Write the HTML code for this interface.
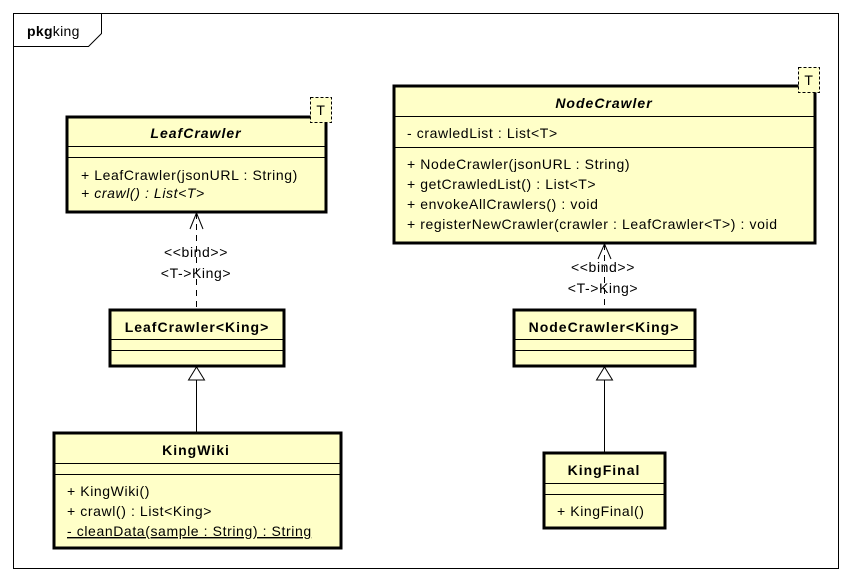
<!DOCTYPE html>
<html><head><meta charset="utf-8"><style>
html,body{margin:0;padding:0;background:#fff;width:852px;height:581px;overflow:hidden}
svg text{font-family:"Liberation Sans",Arial,sans-serif;font-size:14px;fill:#000;letter-spacing:0.6px}
.b{font-weight:bold;letter-spacing:1px}
.bi{font-weight:bold;font-style:italic;letter-spacing:1px}
.box{fill:#ffffc8;stroke:#000;stroke-width:3}
.ln{stroke:#000;stroke-width:1}
</style></head><body>
<svg width="852" height="581" viewBox="0 0 852 581" xmlns="http://www.w3.org/2000/svg">
<rect x="13.5" y="13.5" width="825" height="555" fill="#fff" stroke="#000"/>
<path d="M13.5 46.5 H88.5 L101.5 33.5 V13.5" fill="none" stroke="#000"/>
<text x="27" y="36" style="letter-spacing:0.3px"><tspan font-weight="bold">pkg</tspan>king</text>

<!-- LeafCrawler -->
<rect class="box" x="67" y="117" width="259" height="95"/>
<line class="ln" x1="67" y1="146.5" x2="326" y2="146.5"/>
<line class="ln" x1="67" y1="157.5" x2="326" y2="157.5"/>
<text class="bi" x="196" y="138" text-anchor="middle">LeafCrawler</text>
<text x="81" y="180">+ LeafCrawler(jsonURL : String)</text>
<text x="81" y="198" font-style="italic">+ crawl() : List&lt;T&gt;</text>
<rect x="310.5" y="97.5" width="21" height="25" fill="#ffffc8" stroke="#000" stroke-dasharray="3,2"/>
<text x="321" y="115" text-anchor="middle">T</text>

<!-- NodeCrawler -->
<rect class="box" x="394" y="86" width="421" height="157"/>
<line class="ln" x1="394" y1="116.5" x2="815" y2="116.5"/>
<line class="ln" x1="394" y1="147.5" x2="815" y2="147.5"/>
<text class="bi" x="604" y="108" text-anchor="middle">NodeCrawler</text>
<text x="407" y="138">- crawledList : List&lt;T&gt;</text>
<text x="407" y="169">+ NodeCrawler(jsonURL : String)</text>
<text x="407" y="189">+ getCrawledList() : List&lt;T&gt;</text>
<text x="407" y="209">+ envokeAllCrawlers() : void</text>
<text x="407" y="229">+ registerNewCrawler(crawler : LeafCrawler&lt;T&gt;) : void</text>
<rect x="798.5" y="67.5" width="21" height="25" fill="#ffffc8" stroke="#000" stroke-dasharray="3,2"/>
<text x="809" y="85" text-anchor="middle">T</text>

<!-- bind left -->
<line x1="196.5" y1="213" x2="196.5" y2="309" stroke="#000" stroke-dasharray="6,5"/>
<path d="M190 229 L196.5 213 L203 229" fill="none" stroke="#000"/>
<text x="196" y="257" text-anchor="middle" fill="#333">&lt;&lt;bind&gt;&gt;</text>
<text x="196" y="278" text-anchor="middle" fill="#333">&lt;T-&gt;King&gt;</text>

<!-- bind right -->
<line x1="604.5" y1="244" x2="604.5" y2="309" stroke="#000" stroke-dasharray="6,5"/>
<path d="M598 259 L604.5 244 L611 259" fill="none" stroke="#000"/>
<text x="603" y="272" text-anchor="middle" fill="#333">&lt;&lt;bind&gt;&gt;</text>
<text x="603" y="293" text-anchor="middle" fill="#333">&lt;T-&gt;King&gt;</text>

<!-- LeafCrawler<King> -->
<rect class="box" x="110" y="310" width="174" height="56"/>
<line class="ln" x1="110" y1="339.5" x2="284" y2="339.5"/>
<line class="ln" x1="110" y1="350.5" x2="284" y2="350.5"/>
<text class="b" x="197" y="332" text-anchor="middle">LeafCrawler&lt;King&gt;</text>

<!-- NodeCrawler<King> -->
<rect class="box" x="514" y="310" width="181" height="56"/>
<line class="ln" x1="514" y1="339.5" x2="695" y2="339.5"/>
<line class="ln" x1="514" y1="350.5" x2="695" y2="350.5"/>
<text class="b" x="604" y="332" text-anchor="middle">NodeCrawler&lt;King&gt;</text>

<!-- generalizations -->
<line x1="196.5" y1="380" x2="196.5" y2="432" stroke="#000"/>
<path d="M188.5 380 L196.5 367 L204.5 380 Z" fill="#fff" stroke="#000"/>
<line x1="604.5" y1="380" x2="604.5" y2="452" stroke="#000"/>
<path d="M596.5 380 L604.5 367 L612.5 380 Z" fill="#fff" stroke="#000"/>

<!-- KingWiki -->
<rect class="box" x="54" y="433" width="287" height="115"/>
<line class="ln" x1="54" y1="463.5" x2="341" y2="463.5"/>
<line class="ln" x1="54" y1="474.5" x2="341" y2="474.5"/>
<text class="b" x="196" y="455" text-anchor="middle">KingWiki</text>
<text x="67" y="496">+ KingWiki()</text>
<text x="67" y="516">+ crawl() : List&lt;King&gt;</text>
<text x="67" y="536" text-decoration="underline">- cleanData(sample : String) : String</text>

<!-- KingFinal -->
<rect class="box" x="544" y="453" width="121" height="75"/>
<line class="ln" x1="544" y1="483.5" x2="665" y2="483.5"/>
<line class="ln" x1="544" y1="494.5" x2="665" y2="494.5"/>
<text class="b" x="604" y="475" text-anchor="middle">KingFinal</text>
<text x="557" y="516">+ KingFinal()</text>
</svg>
</body></html>
